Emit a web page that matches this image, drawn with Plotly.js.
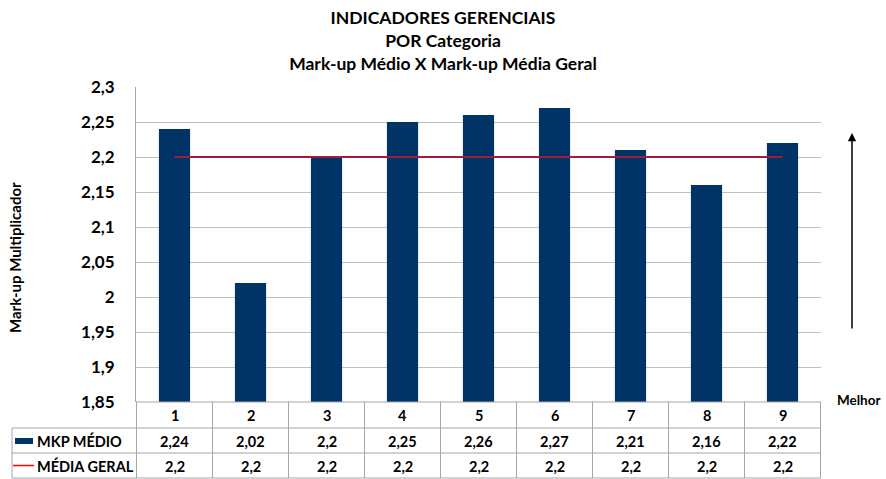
<!DOCTYPE html>
<html>
<head>
<meta charset="utf-8">
<script src="https://cdn.plot.ly/plotly-3.0.1.min.js"></script>
<style>html,body{margin:0;padding:0;background:#fff;}#chart{width:886px;height:479px;}</style>
</head>
<body>
<div id="chart"></div>
<script>
const categories = ["1","2","3","4","5","6","7","8","9"];
const mkpMedio = [2.24, 2.02, 2.2, 2.25, 2.26, 2.27, 2.21, 2.16, 2.22];
const mediaGeral = [2.2, 2.2, 2.2, 2.2, 2.2, 2.2, 2.2, 2.2, 2.2];
const yTickVals = [1.85, 1.9, 1.95, 2, 2.05, 2.1, 2.15, 2.2, 2.25, 2.3];
const yTickText = ["1,85","1,9","1,95","2","2,05","2,1","2,15","2,2","2,25","2,3"];
const seriesNames = ["MKP MÉDIO", "MÉDIA GERAL"];

const FONT = "Lato, 'Open Sans', sans-serif";
const fmt = v => String(v).replace(".", ",");

// table geometry (paper units; plot area 685 x 315 px)
const PW = 685, PH = 315;
const px2x = p => p / PW;
const px2y = p => -p / PH;
const rowCenters = [13.5, 39, 64];
const rowLines = [26, 51, 76];
const legendLeft = px2x(-124);
const gridCol = "#a6a6a6";

const shapes = [];
shapes.push({type:"line", xref:"paper", yref:"paper", x0:0, x1:1, y0:0, y1:0, line:{color:gridCol, width:1}});
rowLines.forEach(r => shapes.push({type:"line", xref:"paper", yref:"paper", x0:legendLeft, x1:1, y0:px2y(r), y1:px2y(r), line:{color:gridCol, width:1}}));
shapes.push({type:"line", xref:"paper", yref:"paper", x0:legendLeft, x1:legendLeft, y0:px2y(rowLines[0]), y1:px2y(rowLines[2]), line:{color:gridCol, width:1}});
for (let k = 0; k <= categories.length; k++) {
  shapes.push({type:"line", xref:"x", yref:"paper", x0:k-0.5, x1:k-0.5, y0:0, y1:px2y(rowLines[2]), line:{color:gridCol, width:1}});
}
shapes.push({type:"rect", xref:"paper", yref:"paper", x0:px2x(-121), x1:px2x(-103), y0:px2y(36), y1:px2y(42), fillcolor:"#003366", line:{width:0}});
shapes.push({type:"line", xref:"paper", yref:"paper", x0:px2x(-123), x1:px2x(-102), y0:px2y(63.5), y1:px2y(63.5), line:{color:"#ff0000", width:1.5}});

const cellFont = {family:FONT, size:14.5, color:"#000", weight:"bold"};
const annotations = [];
categories.forEach((c, i) => {
  annotations.push({xref:"x", yref:"paper", x:i, y:px2y(rowCenters[0]), text:c, showarrow:false, xanchor:"center", yanchor:"middle", font:cellFont});
  annotations.push({xref:"x", yref:"paper", x:i, y:px2y(rowCenters[1]), text:fmt(mkpMedio[i]), showarrow:false, xanchor:"center", yanchor:"middle", font:cellFont});
  annotations.push({xref:"x", yref:"paper", x:i, y:px2y(rowCenters[2]), text:fmt(mediaGeral[i]), showarrow:false, xanchor:"center", yanchor:"middle", font:cellFont});
});
annotations.push({xref:"paper", yref:"paper", x:px2x(-101), y:px2y(rowCenters[1]), xanchor:"left", yanchor:"middle", text:seriesNames[0], showarrow:false, font:cellFont});
annotations.push({xref:"paper", yref:"paper", x:px2x(-101), y:px2y(rowCenters[2]), xanchor:"left", yanchor:"middle", text:seriesNames[1], showarrow:false, font:cellFont});
// arrow & label
annotations.push({xref:"paper", yref:"paper", x:px2x(716), y:(402-133)/PH, ax:0, ay:197, axref:"pixel", ayref:"pixel", text:"", showarrow:true, arrowhead:2, arrowsize:1.1, arrowwidth:1.5, arrowcolor:"#000"});
annotations.push({xref:"paper", yref:"paper", x:px2x(723), y:px2y(-2), text:"Melhor", showarrow:false, xanchor:"center", yanchor:"middle", font:{family:FONT, size:13.5, color:"#000", weight:"bold"}});
// y axis title
annotations.push({xref:"paper", yref:"paper", x:px2x(-121), y:(402-258)/PH, text:"Mark-up Multiplicador", textangle:-90, showarrow:false, xanchor:"center", yanchor:"middle", font:{family:FONT, size:15, color:"#000", weight:"bold"}});

const data = [
  {type:"bar", name:seriesNames[0], x:categories, y:mkpMedio, marker:{color:"#003366"}, hoverinfo:"none"},
  {type:"scatter", mode:"lines", name:seriesNames[1], x:categories, y:mediaGeral, line:{color:"#a01e3c", width:2.2}, hoverinfo:"none"}
];

const layout = {
  width:886, height:479,
  margin:{l:136, r:65, t:87, b:77, autoexpand:false},
  paper_bgcolor:"#fff", plot_bgcolor:"#fff",
  showlegend:false,
  bargap:0.59,
  title:{text:"INDICADORES GERENCIAIS<br>POR Categoria<br>Mark-up Médio X Mark-up Média Geral", x:0.5, xref:"container", y:(479-24)/479, yref:"container", yanchor:"top", font:{family:FONT, size:17.5, color:"#000", weight:"bold"}},
  xaxis:{type:"category", showticklabels:false, showgrid:false, zeroline:false, showline:false, ticks:"", fixedrange:true},
  yaxis:{range:[1.85, 2.3], tickvals:yTickVals, ticktext:yTickText, showgrid:true, gridcolor:"#bfbfbf", gridwidth:1, zeroline:false, showline:true, linecolor:"#a6a6a6", linewidth:1, ticks:"", ticklabelstandoff:17, tickfont:{family:FONT, size:17, color:"#000", weight:"bold"}, automargin:false, fixedrange:true},
  shapes:shapes,
  annotations:annotations
};

Plotly.newPlot("chart", data, layout, {displayModeBar:false, staticPlot:true});
</script>
</body>
</html>
